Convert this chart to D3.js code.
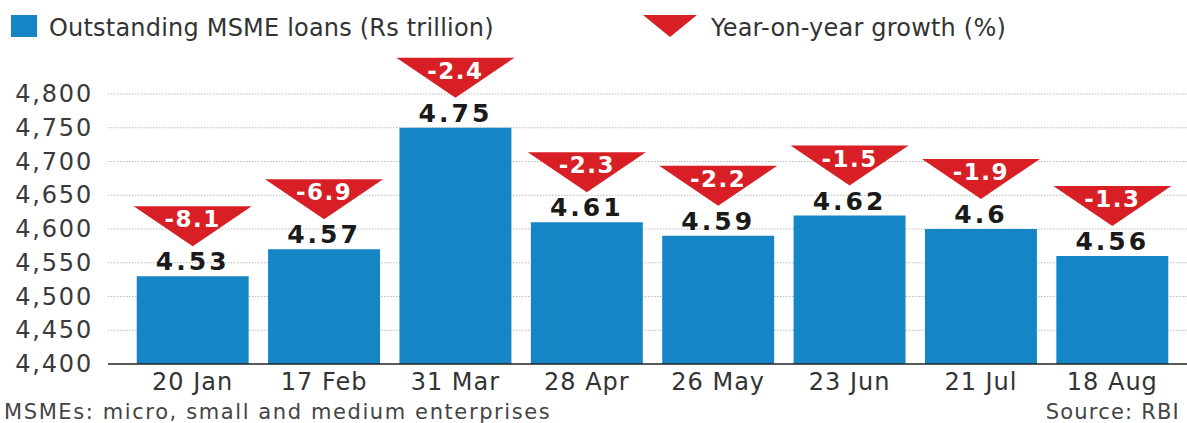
<!DOCTYPE html>
<html>
<head>
<meta charset="utf-8">
<script src="https://cdn.jsdelivr.net/npm/d3@7"></script>
<style>
  body { margin: 0; background: #fff; }
  svg { display: block; font-family: "DejaVu Sans", "Open Sans", sans-serif; }
</style>
</head>
<body>
<div id="chart"></div>
<script>
// chart data
var dates = ["20 Jan", "17 Feb", "31 Mar", "28 Apr", "26 May", "23 Jun", "21 Jul", "18 Aug"];
var loans = [4.53, 4.57, 4.75, 4.61, 4.59, 4.62, 4.6, 4.56];     // Rs trillion
var growth = [-8.1, -6.9, -2.4, -2.3, -2.2, -1.5, -1.9, -1.3];   // yoy %
var yTicks = [4400, 4450, 4500, 4550, 4600, 4650, 4700, 4750, 4800];

var W = 1187, H = 423;
var blue = "#1585c5", red = "#d81f26";

var svg = d3.select("#chart")
  .append("svg")
  .attr("width", W)
  .attr("height", H);

var x = d3.scaleBand()
  .domain(dates)
  .range([127, 1178])
  .paddingInner(0.148)
  .paddingOuter(0.074);

var y = d3.scaleLinear()
  .domain([4400, 4800])
  .range([364, 94]);

// gridlines
svg.append("g")
  .selectAll("line")
  .data(yTicks.slice(1))
  .join("line")
  .attr("x1", 108)
  .attr("x2", W)
  .attr("y1", d => y(d))
  .attr("y2", d => y(d))
  .attr("stroke", "#bbb")
  .attr("stroke-width", 1)
  .attr("stroke-dasharray", "1.5,1.5");

// y axis labels
var yAxis = svg.append("g")
  .attr("transform", "translate(100,0)")
  .call(d3.axisLeft(y).tickValues(yTicks).tickSize(0).tickPadding(7).tickFormat(d3.format(",")));
yAxis.select(".domain").remove();
yAxis.selectAll("text")
  .attr("font-size", 24)
  .attr("letter-spacing", 1.8)
  .attr("fill", "#3a3a3a")
  .attr("font-family", "'DejaVu Sans', sans-serif");

// bars
svg.append("g")
  .selectAll("rect")
  .data(dates)
  .join("rect")
  .attr("x", d => x(d))
  .attr("width", x.bandwidth())
  .attr("y", (d, i) => y(loans[i] * 1000))
  .attr("height", (d, i) => y(4400) - y(loans[i] * 1000))
  .attr("fill", blue);

// baseline
svg.append("line")
  .attr("x1", 108).attr("x2", W)
  .attr("y1", y(4400)).attr("y2", y(4400))
  .attr("stroke", "#222").attr("stroke-width", 1.5);

// x axis labels
svg.append("g")
  .selectAll("text")
  .data(dates)
  .join("text")
  .attr("x", d => x(d) + x.bandwidth() / 2)
  .attr("y", 390)
  .attr("text-anchor", "middle")
  .attr("font-size", 24)
  .attr("letter-spacing", 1)
  .attr("fill", "#333")
  .text(d => d);

// value labels
svg.append("g")
  .selectAll("text")
  .data(dates)
  .join("text")
  .attr("x", d => x(d) + x.bandwidth() / 2)
  .attr("y", (d, i) => y(loans[i] * 1000) - 6)
  .attr("text-anchor", "middle")
  .attr("font-size", 25)
  .attr("letter-spacing", 3)
  .attr("font-weight", "bold")
  .attr("font-family", "Verdana, 'DejaVu Sans', sans-serif")
  .attr("fill", "#1a1a1a")
  .text((d, i) => loans[i]);

// growth markers
var tw = 118, th = 40, gap = 30;
var mk = svg.append("g")
  .selectAll("g")
  .data(dates)
  .join("g")
  .attr("transform", (d, i) => "translate(" + (x(d) + x.bandwidth() / 2) + "," + (y(loans[i] * 1000) - gap) + ")");

mk.append("path")
  .attr("d", "M" + (-tw / 2) + "," + (-th) + "L" + (tw / 2) + "," + (-th) + "L0,0Z")
  .attr("fill", red);

mk.append("text")
  .attr("y", -th + 21)
  .attr("text-anchor", "middle")
  .attr("font-size", 23)
  .attr("letter-spacing", 1.5)
  .attr("font-weight", "bold")
  .attr("font-family", "Verdana, 'DejaVu Sans', sans-serif")
  .attr("fill", "#fff")
  .text((d, i) => growth[i]);

// legend
svg.append("rect")
  .attr("x", 11).attr("y", 15).attr("width", 26).attr("height", 22)
  .attr("fill", blue);
svg.append("text")
  .attr("x", 49).attr("y", 36)
  .attr("font-size", 24)
  .attr("letter-spacing", 0.2)
  .attr("fill", "#333")
  .text("Outstanding MSME loans (Rs trillion)");

svg.append("path")
  .attr("d", "M643,15L697,15L670,37Z")
  .attr("fill", red);
svg.append("text")
  .attr("x", 711).attr("y", 36)
  .attr("font-size", 24)
  .attr("letter-spacing", 0.2)
  .attr("fill", "#333")
  .text("Year-on-year growth (%)");

// footer
svg.append("text")
  .attr("x", 4).attr("y", 419)
  .attr("font-size", 21)
  .attr("letter-spacing", 1.6)
  .attr("fill", "#444")
  .text("MSMEs: micro, small and medium enterprises");
svg.append("text")
  .attr("x", 1180).attr("y", 419)
  .attr("text-anchor", "end")
  .attr("font-size", 21)
  .attr("letter-spacing", 1.2)
  .attr("fill", "#444")
  .text("Source: RBI");
</script>
</body>
</html>
